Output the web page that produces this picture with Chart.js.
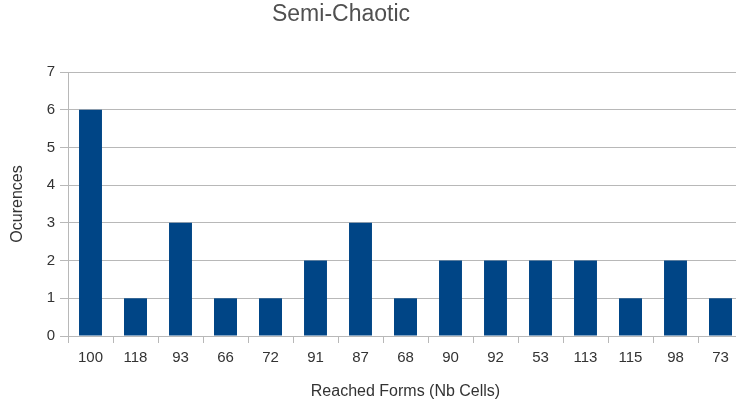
<!DOCTYPE html>
<html>
<head>
<meta charset="utf-8">
<script src="https://cdn.jsdelivr.net/npm/chart.js@4"></script>
<style>
  html, body { margin: 0; padding: 0; overflow: hidden; background: #fff; }
  #wrap { position: relative; width: 750px; height: 407px; }
</style>
</head>
<body>
<div id="wrap"><canvas id="chart"></canvas></div>
<script>
// Reached forms and how often each one came up
const forms = ['100', '118', '93', '66', '72', '91', '87', '68', '90', '92', '53', '113', '115', '98', '73']
const occurences = [6, 1, 3, 1, 1, 2, 3, 1, 2, 2, 2, 2, 1, 2, 1]
const yTicks = [0, 1, 2, 3, 4, 5, 6, 7]

const chartTitle = 'Semi-Chaotic'
const gridColor = '#b8b8b8'
const textColor = '#333333'

// title sits left of centre in the original, so draw it ourselves
const titlePlugin = {
  id: 'offsetTitle',
  afterDraw (chart) {
    const ctx = chart.ctx
    ctx.save()
    ctx.font = '23px "Liberation Sans", Arial, sans-serif'
    ctx.fillStyle = '#505050'
    ctx.textAlign = 'center'
    ctx.textBaseline = 'middle'
    ctx.fillText(chartTitle, 341, 15)
    ctx.restore()
  }
}

new Chart(document.getElementById('chart'), {
  type: 'bar',
  data: {
    labels: forms,
    datasets: [{
      label: 'Occurences',
      data: occurences,
      backgroundColor: '#004586',
      borderWidth: 0,
      barPercentage: 1,
      categoryPercentage: 0.51
    }]
  },
  options: {
    responsive: true,
    maintainAspectRatio: false,
    animation: false,
    layout: { padding: { top: 72, right: 7, bottom: 0, left: 0 } },
    plugins: {
      legend: { display: false },
      tooltip: { enabled: false },
      title: { display: false }
    },
    scales: {
      x: {
        afterFit: (scale) => { scale.height = 407 - 336 },
        grid: {
          offset: true,
          drawOnChartArea: false,
          tickLength: 7,
          color: gridColor
        },
        border: { color: gridColor },
        ticks: {
          color: textColor,
          padding: 6,
          maxRotation: 0,
          autoSkip: false,
          font: { family: '"Liberation Sans", Arial, sans-serif', size: 15 }
        },
        title: {
          display: true,
          text: 'Reached Forms (Nb Cells)',
          color: textColor,
          padding: { top: 0, bottom: 6 },
          font: { family: '"Liberation Sans", Arial, sans-serif', size: 16 }
        }
      },
      y: {
        min: 0,
        max: 7,
        afterFit: (scale) => { scale.width = 68 },
        afterBuildTicks: (scale) => { scale.ticks = yTicks.map(v => ({ value: v })) },
        grid: {
          color: gridColor,
          tickLength: 8
        },
        border: { color: gridColor },
        ticks: {
          color: textColor,
          padding: 5,
          font: { family: '"Liberation Sans", Arial, sans-serif', size: 15 }
        },
        title: {
          display: true,
          text: 'Ocurences',
          color: textColor,
          padding: { top: 8, bottom: 0 },
          font: { family: '"Liberation Sans", Arial, sans-serif', size: 16 }
        }
      }
    }
  },
  plugins: [titlePlugin]
})
</script>
</body>
</html>
